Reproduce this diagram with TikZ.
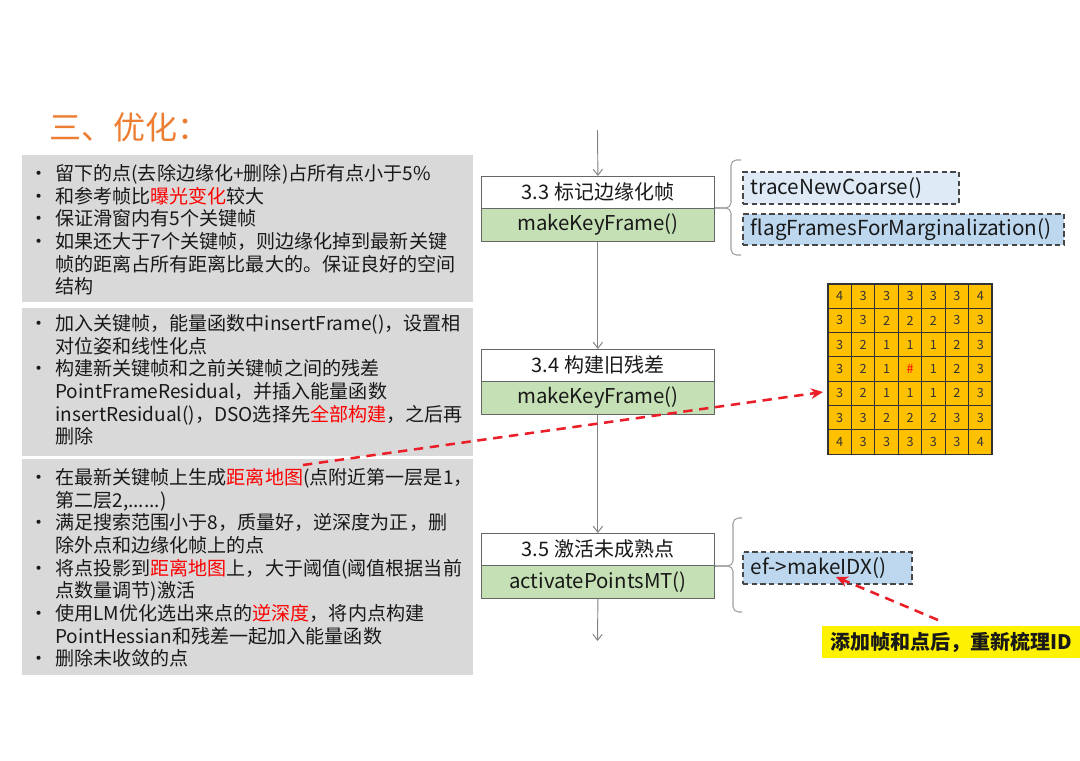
\documentclass[tikz,border=0pt]{standalone}
\usepackage{fontspec}
\setmainfont{Noto Sans CJK SC}
\usetikzlibrary{arrows.meta}
\definecolor{boxgray}{RGB}{217,217,217}
\definecolor{titleor}{RGB}{237,125,49}
\definecolor{kfgreen}{RGB}{197,224,180}
\definecolor{lblue}{RGB}{222,235,247}
\definecolor{mblue}{RGB}{189,215,238}
\definecolor{gridor}{RGB}{255,192,0}
\definecolor{txt}{RGB}{25,25,25}
\definecolor{hred}{RGB}{255,0,0}
\definecolor{dashred}{RGB}{235,30,40}
\definecolor{bracecol}{RGB}{160,160,160}
\definecolor{flowcol}{RGB}{130,130,130}
\newcommand{\bul}{\makebox[19.5pt][l]{•}}
\newcommand{\ind}{\hspace*{19.5pt}}
\newcommand{\hl}[1]{\textcolor{hred}{#1}}
\begin{document}
\begin{tikzpicture}[x=0.75pt,y=-0.75pt,
  graybox/.style={fill=boxgray, draw=none, inner sep=0, anchor=north west},
  bodytext/.style={font=\fontsize{14.3pt}{17pt}\selectfont, text=txt, align=left, inner sep=0, anchor=north west},
  stitle/.style={draw=black!60, line width=0.6pt, fill=white, minimum width=233*0.75pt, minimum height=31.5*0.75pt, inner sep=0, font=\fontsize{15pt}{18pt}\selectfont, text=txt},
  sfunc/.style={draw=black!60, line width=0.6pt, fill=kfgreen, minimum width=233*0.75pt, minimum height=32.5*0.75pt, inner sep=0, font=\fontsize{15.3pt}{18pt}\selectfont, text=txt},
  flow/.style={draw=flowcol, line width=0.7pt, -{Straight Barb[length=4.5pt,width=7pt]}},
  dbox/.style={draw=black!72, dash pattern=on 4pt off 2.5pt, line width=1.3pt, inner xsep=6pt, inner ysep=0, anchor=north west, align=left, font=\fontsize{15.5pt}{18pt}\selectfont, text=txt},
  bracket/.style={draw=bracecol, line width=0.8pt, rounded corners=4pt},
  reddash/.style={draw=dashred, line width=1.9pt, dash pattern=on 7pt off 5pt, -{Stealth[length=9pt,width=8pt]}},
  cell/.style={draw=black!80, line width=0.8pt, fill=gridor, minimum width=23.43*0.75pt, minimum height=24.29*0.75pt, inner sep=0, font=\fontsize{9.5pt}{11pt}\selectfont, text=black!80}
]
\fill[white] (0,0) rectangle (1080,760);
\useasboundingbox (0,0) rectangle (1080,760);

% title
\node[anchor=west, inner sep=0, text=titleor, font=\fontsize{24pt}{28pt}\selectfont] (title) at (49,127) {三、优化：};

% left gray boxes
\node[graybox, minimum width=451*0.75pt, minimum height=147*0.75pt] (box1) at (22,155) {};
\node[graybox, minimum width=451*0.75pt, minimum height=148*0.75pt] (box2) at (22,308) {};
\node[graybox, minimum width=451*0.75pt, minimum height=216*0.75pt] (box3) at (22,459) {};

\node[bodytext] (text1) at (29,164) {%
\bul 留下的点(去除边缘化+删除)占所有点小于5\%\\
\bul 和参考帧比\hl{曝光变化}较大\\
\bul 保证滑窗内有5个关键帧\\
\bul 如果还大于7个关键帧，则边缘化掉到最新关键\\
\ind 帧的距离占所有距离比最大的。保证良好的空间\\
\ind 结构};

\node[bodytext] (text2) at (29,314) {%
\bul 加入关键帧，能量函数中insertFrame()，设置相\\
\ind 对位姿和线性化点\\
\bul 构建新关键帧和之前关键帧之间的残差\\
\ind PointFrameResidual，并插入能量函数\\
\ind insertResidual()，DSO选择先\hl{全部构建}，之后再\\
\ind 删除};

\node[bodytext] (text3) at (29,468) {%
\bul 在最新关键帧上生成\hl{距离地图}(点附近第一层是1，\\
\ind 第二层2,......)\\
\bul 满足搜索范围小于8，质量好，逆深度为正，删\\
\ind 除外点和边缘化帧上的点\\
\bul 将点投影到\hl{距离地图}上，大于阈值(阈值根据当前\\
\ind 点数量调节)激活\\
\bul 使用LM优化选出来点的\hl{逆深度}，将内点构建\\
\ind PointHessian和残差一起加入能量函数\\
\bul 删除未收敛的点};

% center flow
\node[stitle, anchor=north west] (t33) at (481,176) {3.3 标记边缘化帧};
\node[sfunc, anchor=north] (f33) at (t33.south) {makeKeyFrame()};
\node[stitle, anchor=north west] (t34) at (481,349) {3.4 构建旧残差};
\node[sfunc, anchor=north] (f34) at (t34.south) {makeKeyFrame()};
\node[stitle, anchor=north west] (t35) at (481,533) {3.5 激活未成熟点};
\node[sfunc, anchor=north] (f35) at (t35.south) {activatePointsMT()};

\coordinate (flowtop) at (597.5,130);
\coordinate (flowbot) at (597.5,641);
\draw[flow] (flowtop) -- (t33.north);
\draw[flow] (f33.south) -- (t34.north);
\draw[flow] (f34.south) -- (t35.north);
\draw[flow] (f35.south) -- (flowbot);

% braces
\draw[bracket] (741,160) -- (731,160) -- (731,208) -- (715,208);
\draw[bracket] (715,208) -- (731,208) -- (731,255) -- (741,255);
\draw[bracket] (742,518) -- (733,518) -- (733,566) -- (715,566);
\draw[bracket] (715,566) -- (733,566) -- (733,612) -- (742,612);

% dashed function boxes
\node[dbox, fill=lblue, text width=(216-16)*0.75pt, minimum height=32*0.75pt] (trace) at (742,171) {traceNewCoarse()};
\node[dbox, fill=mblue, text width=(321-16)*0.75pt, minimum height=31*0.75pt] (flag) at (742,213) {flagFramesForMarginalization()};
\node[dbox, fill=mblue, text width=(169-16)*0.75pt, minimum height=32*0.75pt] (idx) at (742,551) {ef->makeIDX()};

% distance map grid
\foreach \row [count=\r from 0] in {{4,3,3,3,3,3,4},{3,3,2,2,2,3,3},{3,2,1,1,1,2,3},{3,2,1,\textcolor{hred}{\#},1,2,3},{3,2,1,1,1,2,3},{3,3,2,2,2,3,3},{4,3,3,3,3,3,4}} {
  \foreach \v [count=\c from 0] in \row {
    \node[cell] (g\r\c) at ({828+23.43*(\c+0.5)},{284+24.29*(\r+0.5)}) {\v};
  }
}

% yellow note
\node[fill=yellow, anchor=north west, minimum width=258*0.75pt, minimum height=32*0.75pt, inner sep=0, text=txt, font=\bfseries\fontsize{15pt}{18pt}\selectfont] (note) at (822,626) {添加帧和点后，重新梳理ID};

% red dashed arrows
\coordinate (dmstart) at (303,465);
\coordinate (gridin) at (823,392);
\draw[reddash] (dmstart) -- (gridin);
\coordinate (notestart) at (938,620);
\coordinate (idxin) at (836,577);
\draw[reddash] (notestart) -- (idxin);
\end{tikzpicture}
\end{document}
